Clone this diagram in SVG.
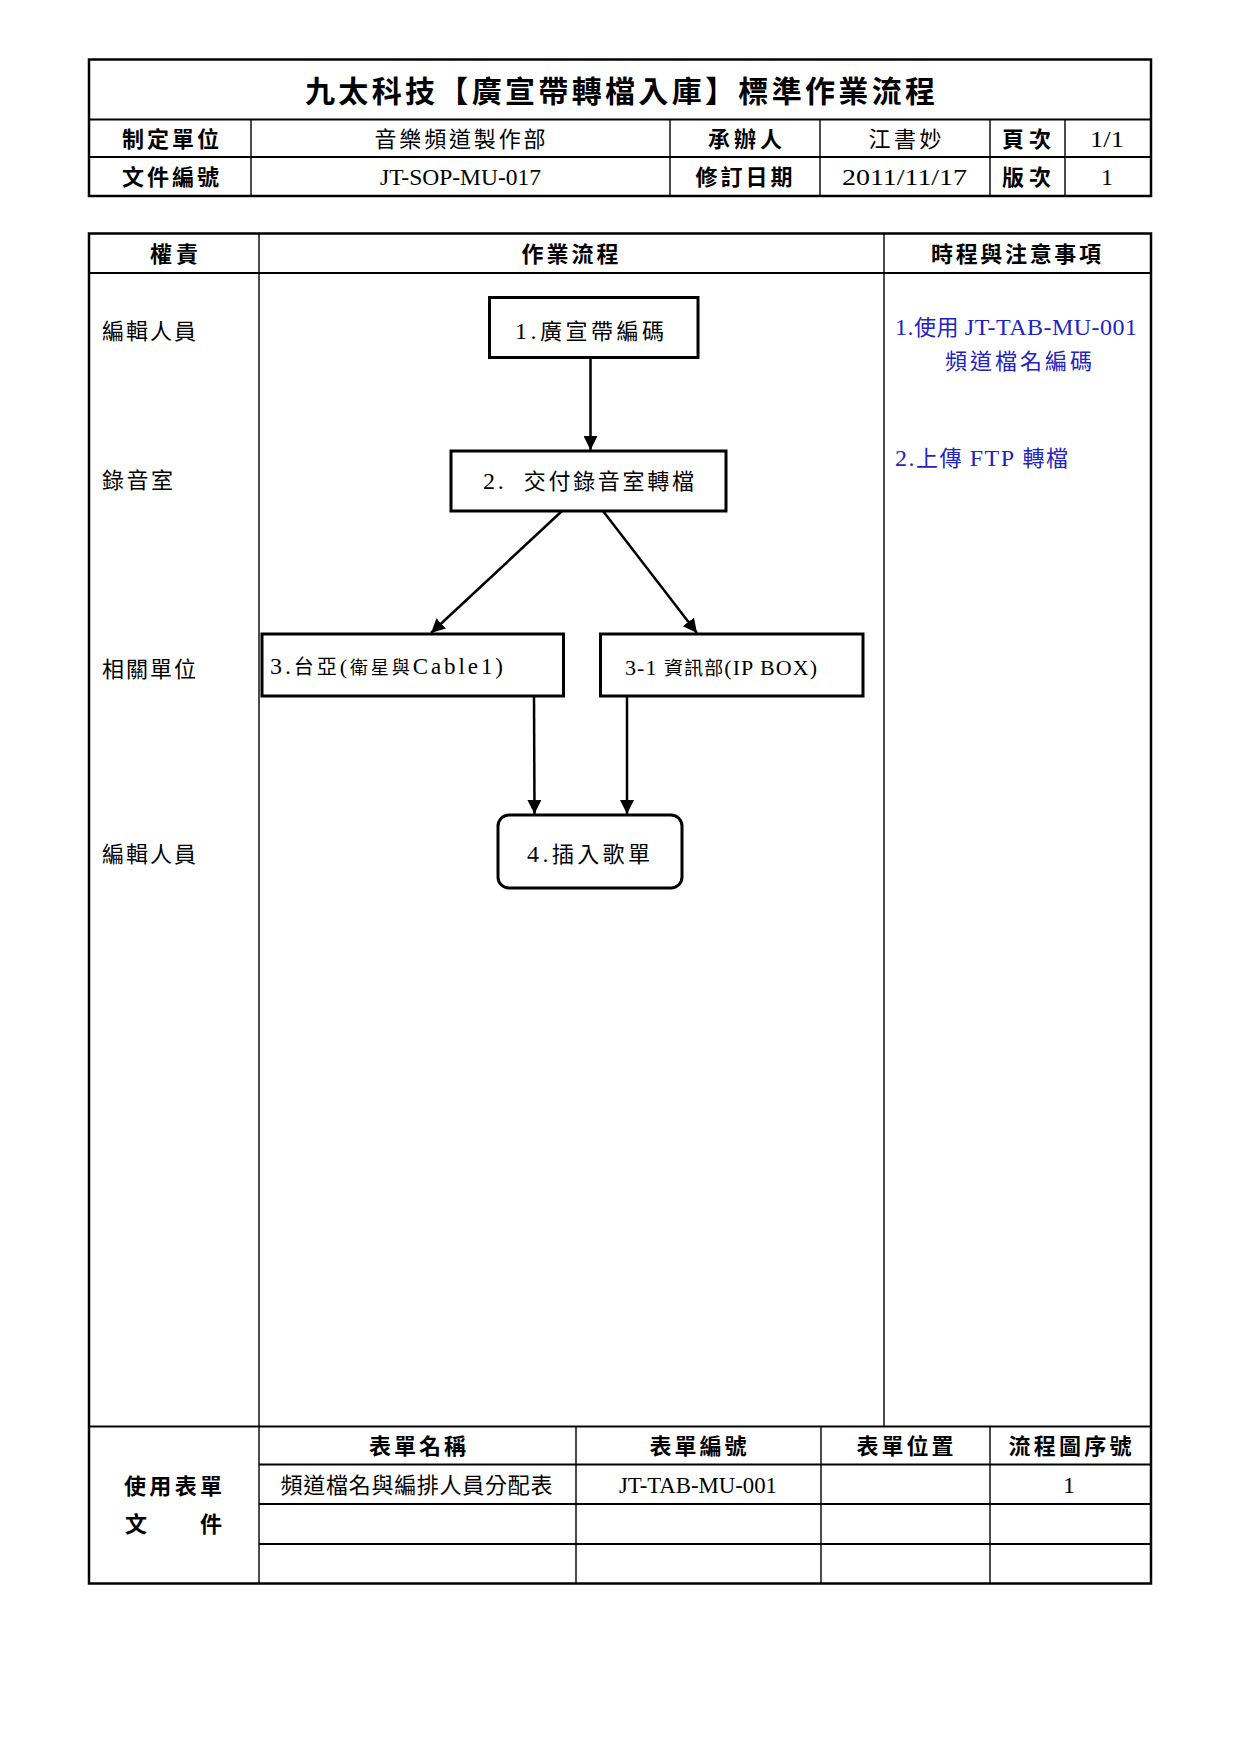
<svg xmlns="http://www.w3.org/2000/svg" width="1240" height="1754" viewBox="0 0 1240 1754">
<style>
.t{font-family:'Liberation Serif','Noto Sans CJK TC',serif;font-size:22px;fill:#000}
.b{font-weight:bold}
.m{text-anchor:middle}
.blue{fill:#2222c4}
.lat{font-size:24px}
.L{font-size:24px}
.thick{stroke:#000;stroke-width:2.5;fill:none}
.row{stroke:#000;stroke-width:2;fill:none}
.col{stroke:#000;stroke-width:1.4;fill:none}
.box{fill:#fff;stroke:#000;stroke-width:3}
.conn{stroke:#000;stroke-width:2.5;fill:none;marker-end:url(#ah)}
</style>
<defs>
<marker id="ah" markerUnits="userSpaceOnUse" markerWidth="14" markerHeight="14" refX="14" refY="7" orient="auto">
<path d="M0,0 L14,7 L0,14 z" fill="#000"/>
</marker>
</defs>
<rect width="1240" height="1754" fill="#fff"/>

<g id="header">
<rect class="thick" x="89" y="59.5" width="1062" height="136.5"/>
<line class="row" x1="89" y1="119.5" x2="1151" y2="119.5"/>
<line class="row" x1="89" y1="157" x2="1151" y2="157"/>
<line class="col" x1="251" y1="119.5" x2="251" y2="196"/>
<line class="col" x1="670" y1="119.5" x2="670" y2="196"/>
<line class="col" x1="820" y1="119.5" x2="820" y2="196"/>
<line class="col" x1="990" y1="119.5" x2="990" y2="196"/>
<line class="col" x1="1065" y1="119.5" x2="1065" y2="196"/>
<text class="t b m" x="620" y="102" style="font-size:30px" textLength="630" lengthAdjust="spacing">九太科技【廣宣帶轉檔入庫】標準作業流程</text>
<text class="t b m" x="170.5" y="146.5" textLength="97" lengthAdjust="spacing">制定單位</text>
<text class="t m" x="460" y="146.5" textLength="171" lengthAdjust="spacing">音樂頻道製作部</text>
<text class="t b m" x="745" y="146.5" textLength="74" lengthAdjust="spacing">承辦人</text>
<text class="t m" x="905" y="146.5" textLength="73" lengthAdjust="spacing">江書妙</text>
<text class="t b m" x="1026.5" y="146.5" textLength="49" lengthAdjust="spacing">頁次</text>
<text class="t lat m" x="1107" y="146.5" textLength="34" lengthAdjust="spacingAndGlyphs">1/1</text>
<text class="t b m" x="170.5" y="184.5" textLength="97" lengthAdjust="spacing">文件編號</text>
<text class="t lat m" x="460.5" y="184.5" textLength="161" lengthAdjust="spacingAndGlyphs">JT-SOP-MU-017</text>
<text class="t b m" x="744" y="184.5" textLength="97" lengthAdjust="spacing">修訂日期</text>
<text class="t lat m" x="904.5" y="184.5" textLength="125" lengthAdjust="spacingAndGlyphs">2011/11/17</text>
<text class="t b m" x="1026.5" y="184.5" textLength="49" lengthAdjust="spacing">版次</text>
<text class="t lat m" x="1107" y="184.5">1</text>
</g>

<g id="main-table">
<rect class="thick" x="89" y="233.5" width="1062" height="1350"/>
<line class="row" x1="89" y1="273" x2="1151" y2="273"/>
<line class="col" x1="259" y1="233.5" x2="259" y2="1583.5"/>
<line class="col" x1="884" y1="233.5" x2="884" y2="1426.5"/>
<line class="row" x1="89" y1="1426.5" x2="1151" y2="1426.5"/>
<line class="row" x1="259" y1="1464.5" x2="1151" y2="1464.5"/>
<line class="row" x1="259" y1="1504" x2="1151" y2="1504"/>
<line class="row" x1="259" y1="1544" x2="1151" y2="1544"/>
<line class="col" x1="576" y1="1426.5" x2="576" y2="1583.5"/>
<line class="col" x1="821" y1="1426.5" x2="821" y2="1583.5"/>
<line class="col" x1="990" y1="1426.5" x2="990" y2="1583.5"/>
<text class="t b m" x="174" y="261.5" textLength="48" lengthAdjust="spacing">權責</text>
<text class="t b m" x="570" y="261.5" textLength="97" lengthAdjust="spacing">作業流程</text>
<text class="t b m" x="1016" y="261.5" textLength="170" lengthAdjust="spacing">時程與注意事項</text>
<text class="t" x="102" y="339" textLength="94" lengthAdjust="spacing">編輯人員</text>
<text class="t" x="102" y="488" textLength="71" lengthAdjust="spacing">錄音室</text>
<text class="t" x="102" y="677" textLength="94" lengthAdjust="spacing">相關單位</text>
<text class="t" x="102" y="862" textLength="94" lengthAdjust="spacing">編輯人員</text>
<text class="t blue" x="895" y="334.5" textLength="242" lengthAdjust="spacing"><tspan class="L">1.</tspan>使用 <tspan class="L">JT-TAB-MU-001</tspan></text>
<text class="t blue" x="945" y="369" textLength="147" lengthAdjust="spacing">頻道檔名編碼</text>
<text class="t blue" x="895" y="466" textLength="173" lengthAdjust="spacing"><tspan class="L">2.</tspan>上傳 <tspan class="L">FTP</tspan> 轉檔</text>
<text class="t b m" x="417.5" y="1453.5" textLength="97" lengthAdjust="spacing">表單名稱</text>
<text class="t b m" x="698" y="1453.5" textLength="97" lengthAdjust="spacing">表單編號</text>
<text class="t b m" x="905" y="1453.5" textLength="97" lengthAdjust="spacing">表單位置</text>
<text class="t b m" x="1070" y="1453.5" textLength="123" lengthAdjust="spacing">流程圖序號</text>
<text class="t m" x="416.5" y="1493" textLength="272" lengthAdjust="spacing">頻道檔名與編排人員分配表</text>
<text class="t lat m" x="698" y="1493" textLength="158" lengthAdjust="spacingAndGlyphs">JT-TAB-MU-001</text>
<text class="t lat m" x="1069" y="1493">1</text>
<text class="t b m" x="173" y="1494" textLength="98" lengthAdjust="spacing">使用表單</text>
<text class="t b m" x="136" y="1532">文</text>
<text class="t b m" x="211" y="1532">件</text>
</g>

<g id="connectors">
<line class="conn" x1="590.5" y1="358" x2="590.5" y2="450"/>
<line class="conn" x1="562" y1="511" x2="431" y2="633"/>
<line class="conn" x1="603" y1="511" x2="697" y2="633"/>
<line class="conn" x1="534" y1="696" x2="534.5" y2="814"/>
<line class="conn" x1="627" y1="696" x2="627" y2="814"/>
</g>

<g id="node1">
<rect class="box" x="489.5" y="297.5" width="208.5" height="60"/>
<text class="t" x="515" y="339" textLength="149" lengthAdjust="spacing"><tspan class="L">1.</tspan>廣宣帶編碼</text>
</g>
<g id="node2">
<rect class="box" x="451" y="451" width="275" height="60"/>
<text class="t" x="483" y="488.5" xml:space="preserve" textLength="211" lengthAdjust="spacing"><tspan class="L">2.  </tspan>交付錄音室轉檔</text>
</g>
<g id="node3">
<rect class="box" x="262" y="634" width="301.5" height="62"/>
<text class="t" x="270" y="674" style="font-size:20px" textLength="233" lengthAdjust="spacing"><tspan class="L">3.</tspan>台亞<tspan style="font-size:22px">(</tspan><tspan style="font-size:18px">衛星與</tspan><tspan style="font-size:23px">Cable1)</tspan></text>
</g>
<g id="node3-1">
<rect class="box" x="600.5" y="634" width="262.5" height="62"/>
<text class="t" x="625" y="674.5" style="font-size:19px" textLength="192" lengthAdjust="spacing"><tspan style="font-size:22px">3-1 </tspan>資訊部<tspan style="font-size:22px">(IP BOX)</tspan></text>
</g>
<g id="node4">
<rect class="box" x="498" y="815" width="184" height="73" rx="11" ry="11"/>
<text class="t" x="527" y="862" textLength="123" lengthAdjust="spacing"><tspan class="L">4.</tspan>插入歌單</text>
</g>
</svg>
